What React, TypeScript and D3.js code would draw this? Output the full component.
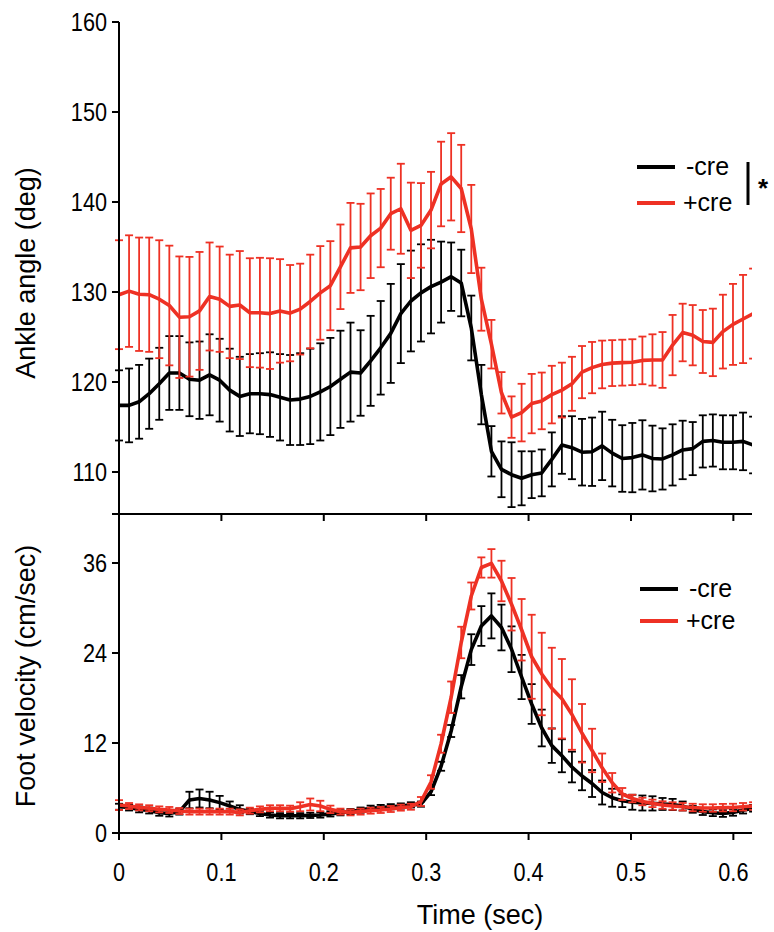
import React from "react";
import * as d3 from "d3";

// sampling interval of the kinematic traces (sec)
const FRAME_SEC = 0.00983;

// Ankle angle (deg), mean and SEM
const ANGLE_CTRL = [
  117.4, 117.4, 117.8, 118.7, 119.8, 121.0, 121.0, 120.3, 120.2, 120.8,
  120.2, 119.1, 118.4, 118.7, 118.7, 118.6, 118.3, 118.0, 118.1, 118.4,
  118.9, 119.5, 120.3, 121.1, 121.0, 122.35, 123.8, 125.4, 127.6, 129.0,
  129.9, 130.6, 131.1, 131.7, 131.0, 126.0, 118.6, 112.3, 110.3, 109.7,
  109.3, 109.7, 109.9, 111.4, 113.0, 112.7, 112.2, 112.25, 112.9, 112.1,
  111.5, 111.6, 111.9, 111.5, 111.45, 111.9, 112.45, 112.6, 113.4, 113.5,
  113.3, 113.3, 113.4, 113.0,
];
const ANGLE_CTRL_SEM = [
  3.9, 4.1, 4.1, 3.9, 4.0, 4.1, 4.1, 4.1, 4.3, 4.5,
  4.6, 4.6, 4.4, 4.4, 4.5, 4.7, 4.8, 5.0, 5.1, 5.3,
  5.4, 5.4, 5.4, 5.5, 4.75, 5.0, 5.2, 5.5, 5.5, 5.6,
  5.4, 5.2, 4.5, 3.8, 3.7, 3.6, 3.3, 2.8, 3.1, 3.6,
  3.0, 2.6, 2.6, 3.0, 3.2, 3.5, 3.7, 3.8, 3.8, 3.7,
  3.7, 3.85, 3.85, 3.65, 3.4, 3.4, 3.25, 2.95, 2.9, 2.9,
  3.0, 3.0, 3.2, 3.15,
];
const ANGLE_CRE = [
  129.7, 130.1, 129.75, 129.7, 129.2, 128.5, 127.2, 127.25, 127.9, 129.5,
  129.2, 128.4, 128.55, 127.7, 127.7, 127.6, 127.9, 127.65, 128.1, 128.95,
  129.9, 130.7, 132.8, 134.9, 135.0, 136.25, 137.1, 138.7, 139.25, 136.85,
  137.4, 139.1, 142.0, 142.8, 141.5, 137.0, 129.2, 124.2, 118.8, 116.1,
  116.6, 117.6, 117.9, 118.6, 119.1, 119.8, 121.1, 121.6, 121.95, 122.1,
  122.15, 122.2, 122.4, 122.45, 122.45, 124.1, 125.5, 125.2, 124.5, 124.4,
  125.6, 126.4, 127.0, 127.6,
];
const ANGLE_CRE_SEM = [
  6.05, 6.2, 6.3, 6.35, 6.55, 6.65, 6.75, 6.65, 6.55, 6.0,
  5.85, 5.75, 6.0, 6.05, 6.1, 6.15, 5.75, 5.35, 5.05, 5.2,
  5.2, 4.95, 4.7, 5.0, 4.8, 4.7, 4.35, 4.0, 5.0, 5.3,
  4.7, 4.25, 4.7, 4.85, 4.85, 4.9, 3.5, 2.7, 2.3, 2.3,
  3.2, 3.3, 3.15, 3.2, 3.05, 3.0, 2.9, 2.85, 2.65, 2.55,
  2.55, 2.55, 2.65, 2.85, 3.1, 3.35, 3.2, 3.35, 3.5, 3.75,
  4.1, 4.5, 4.9, 5.0,
];

// Foot velocity (cm/sec), mean and SEM
const VEL_CTRL = [
  3.5, 3.4, 3.15, 3.0, 2.7, 2.6, 2.85, 4.4, 4.6, 4.4,
  4.05, 3.6, 3.15, 2.85, 2.6, 2.4, 2.3, 2.3, 2.3, 2.35,
  2.4, 2.55, 2.7, 2.85, 3.05, 3.3, 3.4, 3.5, 3.6, 3.75,
  3.85, 5.5, 8.9, 13.6, 19.5, 24.45, 27.6, 28.95, 27.4, 24.5,
  20.8, 17.2, 14.0, 11.65, 10.3, 8.8, 7.6, 6.6, 5.4, 4.7,
  4.3, 4.1, 4.0, 3.95, 3.87, 3.8, 3.6, 3.15, 2.85, 2.7,
  2.6, 2.75, 3.05, 3.3,
];
const VEL_CTRL_SEM = [
  0.4, 0.4, 0.4, 0.4, 0.4, 0.4, 0.4, 1.1, 1.2, 1.1,
  0.9, 0.6, 0.55, 0.35, 0.35, 0.35, 0.35, 0.35, 0.35, 0.35,
  0.35, 0.35, 0.35, 0.35, 0.35, 0.35, 0.35, 0.35, 0.35, 0.35,
  0.35, 0.45, 0.6, 0.8, 1.55, 2.05, 2.65, 3.0, 3.05, 3.05,
  2.95, 2.65, 2.45, 2.3, 2.2, 2.05, 1.9, 1.8, 1.6, 1.2,
  0.85, 1.0, 1.0, 0.95, 0.8, 0.75, 0.6, 0.45, 0.45, 0.45,
  0.45, 0.45, 0.45, 0.45,
];
const VEL_CRE = [
  3.73, 3.6, 3.42, 3.3, 3.15, 3.07, 2.93, 2.85, 2.85, 2.85,
  2.85, 2.85, 2.75, 2.98, 3.15, 3.3, 3.3, 3.25, 3.5, 3.8,
  3.6, 3.15, 2.85, 2.75, 2.85, 2.98, 3.07, 3.2, 3.38, 3.5,
  4.2, 6.8, 11.9, 18.1, 25.4, 31.6, 35.4, 35.95, 33.6, 30.5,
  27.1, 23.5, 21.2, 19.3, 17.9, 15.8, 13.3, 11.0, 8.7, 6.7,
  5.2, 4.6, 4.2, 3.95, 3.73, 3.6, 3.5, 3.4, 3.33, 3.33,
  3.38, 3.4, 3.5, 3.6,
];
const VEL_CRE_SEM = [
  0.65, 0.4, 0.4, 0.4, 0.4, 0.4, 0.4, 0.4, 0.4, 0.4,
  0.4, 0.4, 0.4, 0.4, 0.4, 0.4, 0.4, 0.4, 0.6, 0.8,
  0.7, 0.5, 0.4, 0.4, 0.4, 0.4, 0.4, 0.4, 0.4, 0.4,
  0.6, 0.9, 1.2, 2.1, 2.1, 1.8, 1.35, 1.9, 2.7, 3.5,
  4.1, 5.6, 5.5, 5.4, 5.3, 4.7, 3.9, 2.9, 1.9, 1.3,
  0.8, 0.5, 0.5, 0.5, 0.5, 0.5, 0.5, 0.5, 0.5, 0.5,
  0.5, 0.5, 0.5, 0.5,
];

const TIME = ANGLE_CTRL.map((_, i) => i * FRAME_SEC);

const X_TICKS = [0, 0.1, 0.2, 0.3, 0.4, 0.5, 0.6];
const ANGLE_TICKS = [110, 120, 130, 140, 150, 160];
const VEL_TICKS = [0, 12, 24, 36];
const GROUPS = ["-cre", "+cre"];
const COLORS = ["#000000", "#EE3124"];

const FONT = "'Liberation Sans', Arial, Helvetica, sans-serif";

const x = d3.scaleLinear().domain([0, 0.6182]).range([119, 752]);
const yAngle = d3.scaleLinear().domain([110, 160]).range([472, 22]);
const yVel = d3.scaleLinear().domain([0, 36]).range([833, 563]);

function Series({ values, sem, y, color }) {
  const line = d3
    .line<number>()
    .x((_, i) => x(TIME[i]))
    .y((d) => y(d));
  return (
    <g>
      {values.map((v, i) => {
        const cx = x(TIME[i]);
        const y1 = y(v + sem[i]);
        const y2 = y(v - sem[i]);
        return (
          <g key={i} stroke={color} strokeWidth={1.8} fill="none">
            <line x1={cx} x2={cx} y1={y1} y2={y2} />
            <line x1={cx - 4} x2={cx + 4} y1={y1} y2={y1} />
            <line x1={cx - 4} x2={cx + 4} y1={y2} y2={y2} />
          </g>
        );
      })}
      <path
        d={line(values) || ""}
        fill="none"
        stroke={color}
        strokeWidth={3.6}
        strokeLinejoin="round"
      />
    </g>
  );
}

// condensed tick label, like the narrow face of the original figure
function TickLabel({ tx, ty, anchor, children }) {
  return (
    <text
      transform={`translate(${tx},${ty}) scale(0.85,1)`}
      textAnchor={anchor}
      fontFamily={FONT}
      fontSize={25.5}
    >
      {children}
    </text>
  );
}

function Legend({ x0, y0, gap }) {
  return (
    <g>
      {GROUPS.map((g, i) => (
        <g key={g}>
          <line
            x1={x0}
            x2={x0 + 38}
            y1={y0 + i * gap}
            y2={y0 + i * gap}
            stroke={COLORS[i]}
            strokeWidth={4}
          />
          <text
            x={x0 + (i === 0 ? 49 : 46)}
            y={y0 + i * gap + 8}
            fontSize={25}
            fontFamily={FONT}
          >
            {g}
          </text>
        </g>
      ))}
    </g>
  );
}

export default function App() {
  const [x0, x1] = x.range();
  const topBase = 514;
  const botBase = yVel(0);
  return (
    <svg
      width={774}
      height={932}
      style={{ position: "absolute", left: 0, top: 0, background: "#fff" }}
    >
      <defs>
        <clipPath id="plot-clip">
          <rect x={0} y={0} width={x1} height={932} />
        </clipPath>
      </defs>

      {/* data */}
      <g clipPath="url(#plot-clip)">
        <Series values={ANGLE_CTRL} sem={ANGLE_CTRL_SEM} y={yAngle} color={COLORS[0]} />
        <Series values={ANGLE_CRE} sem={ANGLE_CRE_SEM} y={yAngle} color={COLORS[1]} />
        <Series values={VEL_CTRL} sem={VEL_CTRL_SEM} y={yVel} color={COLORS[0]} />
        <Series values={VEL_CRE} sem={VEL_CRE_SEM} y={yVel} color={COLORS[1]} />
      </g>

      {/* axes */}
      <g stroke="#000" strokeWidth={2} fill="none">
        <line x1={x0} x2={x0} y1={yAngle(160)} y2={botBase} />
        <line x1={x0 - 7} x2={x1} y1={topBase} y2={topBase} />
        <line x1={x0 - 7} x2={x1} y1={botBase} y2={botBase} />
        {ANGLE_TICKS.map((t) => (
          <line key={t} x1={x0 - 7} x2={x0} y1={yAngle(t)} y2={yAngle(t)} />
        ))}
        {VEL_TICKS.map((t) => (
          <line key={t} x1={x0 - 7} x2={x0} y1={yVel(t)} y2={yVel(t)} />
        ))}
        {X_TICKS.map((t) => (
          <g key={t}>
            <line x1={x(t)} x2={x(t)} y1={topBase} y2={topBase + 7} />
            <line x1={x(t)} x2={x(t)} y1={botBase} y2={botBase + 7} />
          </g>
        ))}
      </g>

      <g fill="#000">
        {ANGLE_TICKS.map((t) => (
          <TickLabel key={t} tx={x0 - 12} ty={yAngle(t) + 9} anchor="end">
            {t}
          </TickLabel>
        ))}
        {VEL_TICKS.map((t) => (
          <TickLabel key={t} tx={x0 - 12} ty={yVel(t) + 9} anchor="end">
            {t}
          </TickLabel>
        ))}
        {X_TICKS.map((t) => (
          <TickLabel key={t} tx={x(t)} ty={881} anchor="middle">
            {t}
          </TickLabel>
        ))}
      </g>

      {/* axis titles */}
      <g fontFamily={FONT} fontSize={27} fill="#000" textAnchor="middle">
        <text x={480} y={924}>
          Time (sec)
        </text>
        <text transform="translate(35,273) rotate(-90)">Ankle angle (deg)</text>
        <text transform="translate(35,676) rotate(-90)">Foot velocity (cm/sec)</text>
      </g>

      {/* legends */}
      <Legend x0={637} y0={167} gap={36} />
      <line x1={748} x2={748} y1={162} y2={205} stroke="#000" strokeWidth={3} />
      <text x={758} y={197} fontFamily={FONT} fontSize={26} fontWeight="bold">
        *
      </text>
      <Legend x0={640} y0={589} gap={32} />
    </svg>
  );
}
